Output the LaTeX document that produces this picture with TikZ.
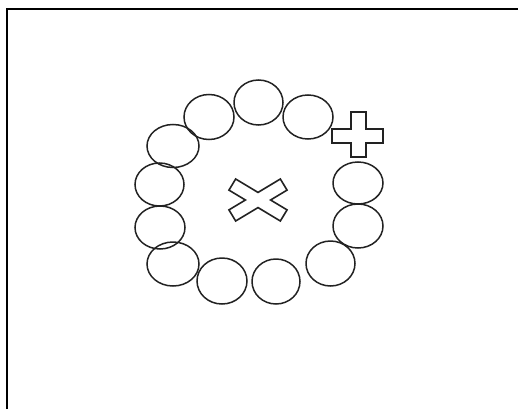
\documentclass[tikz,border=0pt]{standalone}
\usepackage{xcolor}
\usepackage{tikz}
\definecolor{ink}{RGB}{34,34,34}

\begin{document}
\begin{tikzpicture}[
  x=1pt, y=-1pt,
  bead/.style={draw=ink, line width=1.5pt},
  mark sign/.style={draw=ink, line width=1.6pt, line join=miter},
  frame/.style={draw=black, line width=2pt}
]
  \useasboundingbox (0,0) rectangle (518,409);
  \draw[frame] (7,409) -- (7,9) -- (518,9);
  % ring of beads
  \foreach \cx/\cy/\rx/\ry in {258.5/102.5/24.5/22.5, 209/117/25/22.5, 308/117/25/22,
      173/146/26/21.5, 159.5/184.5/24.5/21.5, 160/227.5/25/21.5, 173/264/26/22,
      222/281/25/23, 276/281.5/24/22.5, 330.5/263.5/24.5/22.5, 358/226/25/22, 358/183/25/21}
    \draw[bead] (\cx,\cy) ellipse [x radius=\rx, y radius=\ry];
  % plus
  \draw[mark sign] (351,112) -- (366,112) -- (366,129) -- (383,129) -- (383,143)
    -- (366,143) -- (366,157) -- (351,157) -- (351,143) -- (332,143) -- (332,129)
    -- (351,129) -- cycle;
  % cross
  \draw[mark sign, shift={(258,200)}] (12.6,0) -- (29.05,9.88) -- (22.35,21) -- (0,7.58)
    -- (-22.35,21) -- (-29.05,9.88) -- (-12.6,0) -- (-29.05,-9.88) -- (-22.35,-21)
    -- (0,-7.58) -- (22.35,-21) -- (29.05,-9.88) -- cycle;
\end{tikzpicture}
\end{document}
